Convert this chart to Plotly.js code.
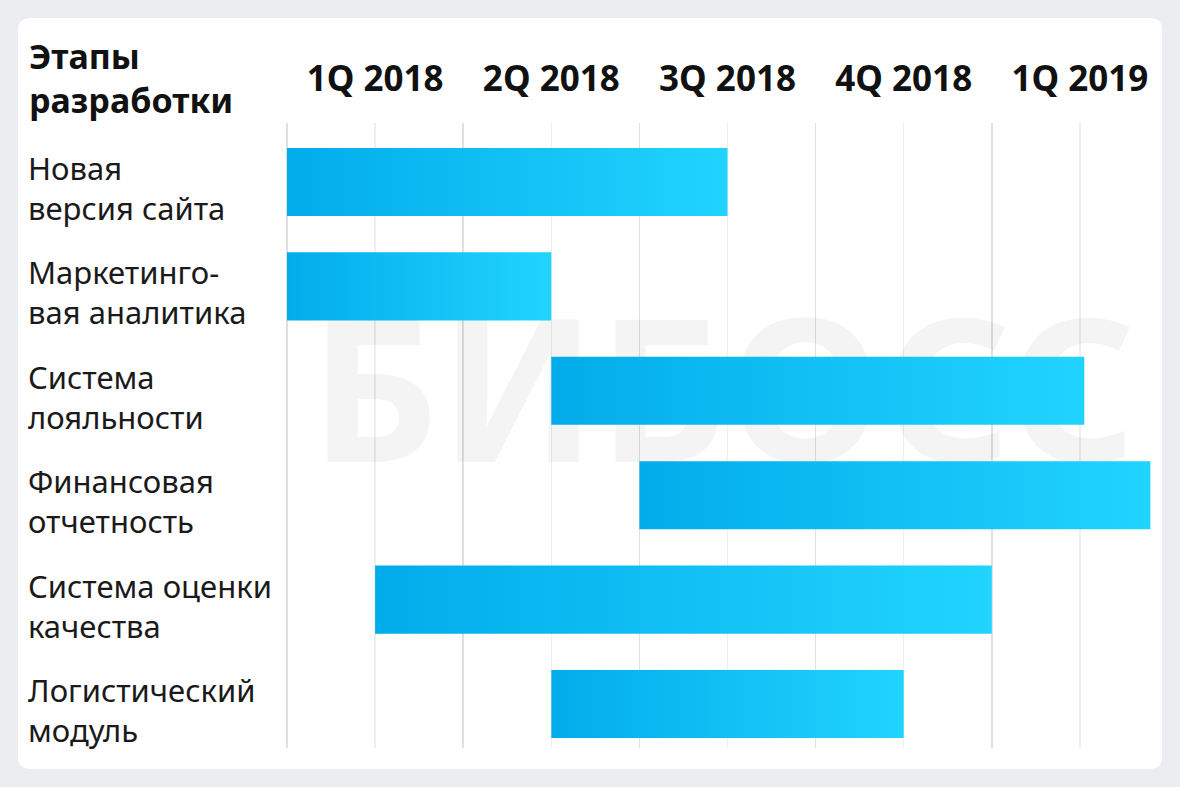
<!DOCTYPE html>
<html>
<head>
<meta charset="utf-8">
<script src="https://cdn.plot.ly/plotly-3.0.1.min.js"></script>
<style>html,body{margin:0;padding:0;background:#ecedf1;}#chart{width:1180px;height:787px;}</style>
</head>
<body>
<div id="chart"></div>
<script>
// Data (units: half-quarters from the start of 1Q 2018)
var stages = ['Новая<br>версия сайта', 'Маркетинго-<br>вая аналитика', 'Система<br>лояльности', 'Финансовая<br>отчетность', 'Система оценки<br>качества', 'Логистический<br>модуль'];
var startVals = [0, 0, 3, 4, 1, 3];
var endVals = [5, 3, 9.05, 9.8, 8, 7];
var quarterLabels = ['1Q 2018', '2Q 2018', '3Q 2018', '4Q 2018', '1Q 2019'];
var quarterCenters = [1, 3, 5, 7, 9];
var headerText = 'Этапы<br>разработки';
var watermark = 'БИБОСС';

var W = 1180, H = 787;
var L = 283, R = 1162, T = 123, B = 748;
var UNIT = 88.1;
var X0 = -4 / UNIT;
var FONT = 'Noto Sans, Open Sans, sans-serif';
function px2paperX(p){ return (p - L) / (R - L); }
function px2paperY(p){ return (B - p) / (B - T); }

var half = 0.326;
var traces = [];
// faint watermark (drawn first so bars cover it)
traces.push({
  type: 'scatter', mode: 'text', x: [4.95], y: [2.2], text: [watermark],
  textfont: {family: 'Noto Sans', size: 200, color: 'rgba(0,0,0,0.042)', weight: 700},
  textposition: 'middle center', hoverinfo: 'skip', showlegend: false, cliponaxis: false
});
for (var i = 0; i < stages.length; i++) {
  var s = startVals[i], e = endVals[i];
  traces.push({
    type: 'scatter', mode: 'lines',
    x: [s, e, e, s, s],
    y: [i - half, i - half, i + half, i + half, i - half],
    fill: 'toself',
    fillcolor: '#10c0f5',
    fillgradient: {type: 'horizontal', colorscale: [[0, '#02acea'], [1, '#21d4ff']]},
    line: {width: 0},
    hoverinfo: 'text', text: stages[i].replace('<br>', ' '),
    showlegend: false
  });
}

// card corners
var x0 = px2paperX(18), x1 = px2paperX(1162), y0 = px2paperY(769), y1 = px2paperY(18);
var rx = 12 / (R - L), ry = 12 / (B - T);
var cardPath = 'M ' + (x0 + rx) + ' ' + y1 +
  ' L ' + (x1 - rx) + ' ' + y1 + ' Q ' + x1 + ' ' + y1 + ' ' + x1 + ' ' + (y1 - ry) +
  ' L ' + x1 + ' ' + (y0 + ry) + ' Q ' + x1 + ' ' + y0 + ' ' + (x1 - rx) + ' ' + y0 +
  ' L ' + (x0 + rx) + ' ' + y0 + ' Q ' + x0 + ' ' + y0 + ' ' + x0 + ' ' + (y0 + ry) +
  ' L ' + x0 + ' ' + (y1 - ry) + ' Q ' + x0 + ' ' + y1 + ' ' + (x0 + rx) + ' ' + y1 + ' Z';

var annotations = [];
annotations.push({
  xref: 'paper', yref: 'paper', x: px2paperX(27), y: px2paperY(78),
  xanchor: 'left', yanchor: 'middle', align: 'left', showarrow: false,
  text: headerText, font: {family: FONT, size: 34, color: '#111111', weight: 700}
});
for (var j = 0; j < stages.length; j++) {
  annotations.push({
    xref: 'paper', yref: 'y', x: px2paperX(26), y: j, yshift: -6,
    xanchor: 'left', yanchor: 'middle', align: 'left', showarrow: false,
    text: stages[j], font: {family: FONT, size: 31, color: '#1a1a1a'}
  });
}

var layout = {
  width: W, height: H,
  margin: {l: L, r: W - R, t: T, b: H - B, pad: 0},
  paper_bgcolor: '#ecedf1',
  plot_bgcolor: 'rgba(0,0,0,0)',
  showlegend: false,
  xaxis: {
    range: [X0, X0 + (R - L) / UNIT], side: 'top', fixedrange: true,
    tickmode: 'array', tickvals: quarterCenters, ticktext: quarterLabels,
    ticks: '', ticklabelstandoff: 24,
    tickfont: {family: FONT, size: 35, color: '#111111', weight: 700},
    showgrid: true, gridcolor: '#eeeeee', gridwidth: 1.5,
    minor: {tickmode: 'array', tickvals: [0, 2, 4, 6, 8], showgrid: true, gridcolor: '#e0e0e0', gridwidth: 1.5, ticks: ''},
    zeroline: false, showline: false
  },
  yaxis: {
    range: [5 + (B - 704) / 104.4, -(182 - T) / 104.4], fixedrange: true,
    showgrid: false, zeroline: false, showticklabels: false, ticks: '', showline: false
  },
  shapes: [{type: 'path', xref: 'paper', yref: 'paper', path: cardPath, fillcolor: '#ffffff', line: {width: 0}, layer: 'below'}],
  annotations: annotations
};

Plotly.newPlot('chart', traces, layout, {displayModeBar: false, staticPlot: true});
</script>
</body>
</html>
